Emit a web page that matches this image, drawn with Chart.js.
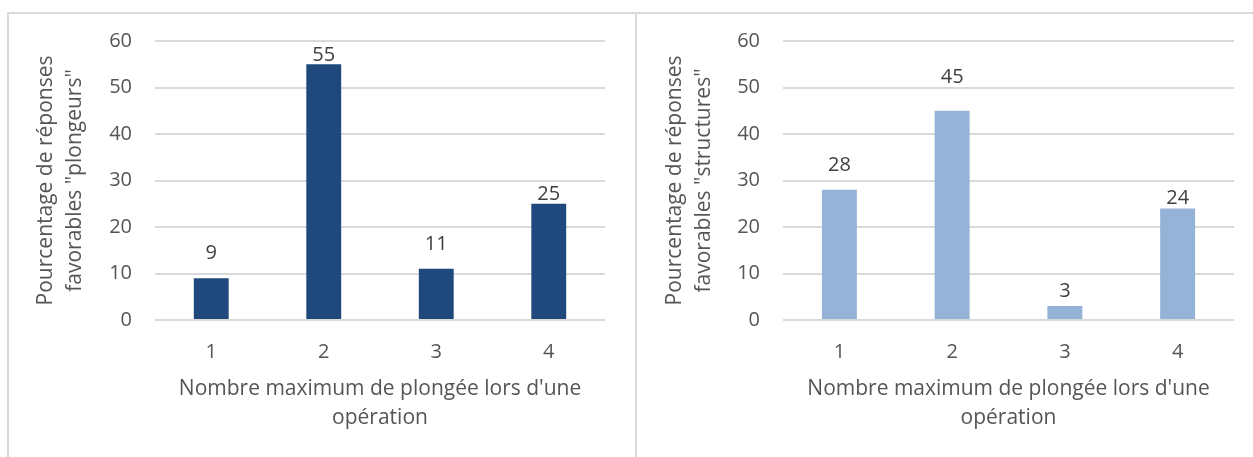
<!DOCTYPE html>
<html>
<head>
<meta charset="utf-8">
<script src="https://cdn.jsdelivr.net/npm/chart.js@4.4.1/dist/chart.umd.min.js"></script>
<style>
  html, body { margin: 0; padding: 0; background: #ffffff; }
  body { width: 1253px; height: 457px; position: relative; overflow: hidden; }
  .frame { position: absolute; background: #D9D9D9; }
  .box { position: absolute; top: 0; height: 457px; }
</style>
</head>
<body>
<div class="frame" style="left:7px; top:12px; width:1246px; height:2px;"></div>
<div class="frame" style="left:7px; top:12px; width:2px; height:445px;"></div>
<div class="frame" style="left:635px; top:12px; width:2px; height:445px;"></div>
<div class="box" style="left:0; width:636px;"><canvas id="c1"></canvas></div>
<div class="box" style="left:637px; width:616px;"><canvas id="c2"></canvas></div>
<script>
const categories = ['1', '2', '3', '4'];
const plongeursValues = [9, 55, 11, 25];
const structuresValues = [28, 45, 3, 24];
const xTitleLines = ["Nombre maximum de plongée lors d'une", 'opération'];
const yTitlePlongeurs = ['Pourcentage de réponses', 'favorables "plongeurs"'];
const yTitleStructures = ['Pourcentage de réponses', 'favorables "structures"'];

const FONT = "'Open Sans', 'Liberation Sans', sans-serif";
const TEXT = '#555555';
const GRID = '#D9D9D9';

const valueLabels = {
  id: 'valueLabels',
  afterDatasetsDraw(chart, args, opts) {
    const ctx = chart.ctx;
    const meta = chart.getDatasetMeta(0);
    const data = chart.data.datasets[0].data;
    ctx.save();
    ctx.font = opts.size + 'px ' + FONT;
    ctx.fillStyle = '#404040';
    ctx.textAlign = 'center';
    ctx.textBaseline = 'middle';
    meta.data.forEach((bar, i) => {
      ctx.fillText(String(data[i]), bar.x, bar.y - opts.lift[i]);
    });
    ctx.restore();
  }
};

function makeChart(id, values, color, yTitle, cfg) {
  return new Chart(document.getElementById(id), {
    type: 'bar',
    data: {
      labels: categories,
      datasets: [{ data: values, backgroundColor: color, borderWidth: 0,
                   categoryPercentage: 1, barPercentage: 0.31 }]
    },
    plugins: [valueLabels],
    options: {
      responsive: true,
      maintainAspectRatio: false,
      animation: false,
      layout: { padding: { left: 0, right: cfg.padRight, top: 41, bottom: 0 } },
      plugins: {
        legend: { display: false },
        tooltip: { enabled: false },
        valueLabels: { size: 20, lift: cfg.lift }
      },
      scales: {
        x: {
          grid: { display: false, drawTicks: false },
          border: { display: false },
          ticks: { color: TEXT, font: { family: FONT, size: 20 }, padding: 20 },
          title: { display: true, text: xTitleLines, color: TEXT,
                   font: { family: FONT, size: 21, lineHeight: 28.5 / 21 },
                   padding: { top: 0, bottom: 25 } },
          afterFit(scale) { scale.height = 137; }
        },
        y: {
          min: 0, max: 60,
          ticks: { stepSize: 10, color: TEXT, font: { family: FONT, size: 20 }, padding: 23 },
          grid: { color: GRID, lineWidth: 2, drawTicks: false },
          border: { display: false },
          title: { display: true, text: yTitle, color: TEXT,
                   font: { family: FONT, size: 21, lineHeight: 28.5 / 21 },
                   padding: { top: cfg.yTitleTop, bottom: 0 } },
          afterFit(scale) { scale.width = cfg.yWidth; }
        }
      }
    }
  });
}

makeChart('c1', plongeursValues, '#1F497D', yTitlePlongeurs,
  { padRight: 31, yWidth: 155, yTitleTop: 32, lift: [25, 9, 25, 9] });
makeChart('c2', structuresValues, '#95B3D7', yTitleStructures,
  { padRight: 19, yWidth: 146, yTitleTop: 24, lift: [25, 33, 15, 10] });
</script>
</body>
</html>
